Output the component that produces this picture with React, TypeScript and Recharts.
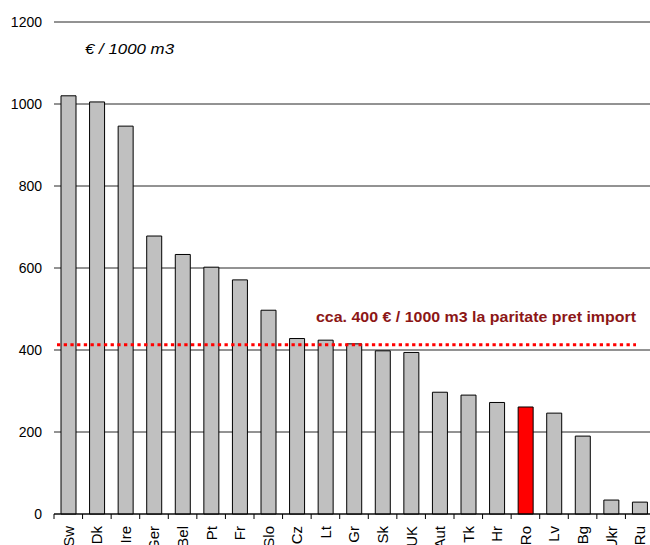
import React from 'react';
import { BarChart, Bar, XAxis, YAxis, CartesianGrid, ReferenceLine, Cell } from 'recharts';

const categories = ['Sw', 'Dk', 'Ire', 'Ger', 'Bel', 'Pt', 'Fr', 'Slo', 'Cz', 'Lt', 'Gr', 'Sk', 'UK', 'Aut', 'Tk', 'Hr', 'Ro', 'Lv', 'Bg', 'Ukr', 'Ru'];
const prices = [1020, 1005, 946, 678, 633, 602, 571, 497, 428, 424, 415, 398, 394, 297, 290, 272, 261, 246, 190, 34, 29];
const highlighted = 'Ro';
const yTicks = [0, 200, 400, 600, 800, 1000, 1200];
const parityValue = 413;
const parityLabel = 'cca. 400 € / 1000 m3 la paritate pret import';
const unitLabel = '€ / 1000 m3';

const data = categories.map((c, i) => ({ country: c, price: prices[i] }));

const FONT = "'Liberation Sans', Arial, sans-serif";
const CHART_W = 660;
const CHART_H = 560;
const Y_W = 54;
const M_RIGHT = 6;
const HALF_BAND = (CHART_W - Y_W - M_RIGHT) / categories.length / 2;

const XTick = (props: any) => {
  const { x, y, payload } = props;
  const bx = x - HALF_BAND;
  return (
    <g>
      <line x1={bx} y1={y - 8} x2={bx} y2={y - 3} stroke="#000" strokeWidth={1} />
      <text
        transform={`translate(${x},${y + 4}) rotate(-90)`}
        textAnchor="end"
        dy="0.36em"
        fontSize={15}
        fontFamily={FONT}
        fill="#000"
      >
        {payload.value}
      </text>
    </g>
  );
};

const ParityShape = (props: any) => {
  const { x1, x2, y1 } = props;
  const xs = x1 + 3;
  const xe = x2 - 18;
  return (
    <g>
      <line x1={xs} y1={y1} x2={xe} y2={y1} stroke="#FF0000" strokeWidth={3} strokeDasharray="3.3 3.4" />
      <text
        x={xe}
        y={y1 - 23}
        textAnchor="end"
        fontSize={14.5}
        fontWeight="bold"
        fontFamily={FONT}
        fill="#8C1616"
        textLength={320}
        lengthAdjust="spacingAndGlyphs"
      >
        {parityLabel}
      </text>
    </g>
  );
};

export default function App() {
  return (
    <div style={{ position: 'fixed', left: 0, top: 0, width: 650, height: 545, overflow: 'hidden', background: '#fff' }}>
      <BarChart
        width={CHART_W}
        height={CHART_H}
        data={data}
        margin={{ top: 22, right: M_RIGHT, left: 0, bottom: 0 }}
        barCategoryGap="24.5%"
      >
        <CartesianGrid horizontal vertical={false} stroke="#000" strokeOpacity={0.85} />
        <XAxis
          dataKey="country"
          height={46}
          interval={0}
          axisLine={{ stroke: '#000' }}
          tickLine={false}
          tick={<XTick />}
        />
        <YAxis
          width={Y_W}
          domain={[0, 1200]}
          ticks={yTicks}
          axisLine={false}
          tickLine={false}
          tickSize={6}
          tickMargin={6}
          tick={{ fontSize: 14, fontFamily: FONT, fill: '#000' }}
        />
        <Bar dataKey="price" stroke="#000" strokeWidth={1} isAnimationActive={false}>
          {data.map((d) => (
            <Cell key={d.country} fill={d.country === highlighted ? '#FF0000' : '#C0C0C0'} />
          ))}
        </Bar>
        <ReferenceLine y={parityValue} shape={<ParityShape />} />
      </BarChart>
      <svg width={200} height={30} style={{ position: 'absolute', left: 0, top: 30, overflow: 'visible' }}>
        <text
          x={85}
          y={24}
          fontFamily={FONT}
          fontStyle="italic"
          fontSize={14.5}
          fill="#000"
          textLength={89}
          lengthAdjust="spacingAndGlyphs"
        >
          {unitLabel}
        </text>
      </svg>
    </div>
  );
}
